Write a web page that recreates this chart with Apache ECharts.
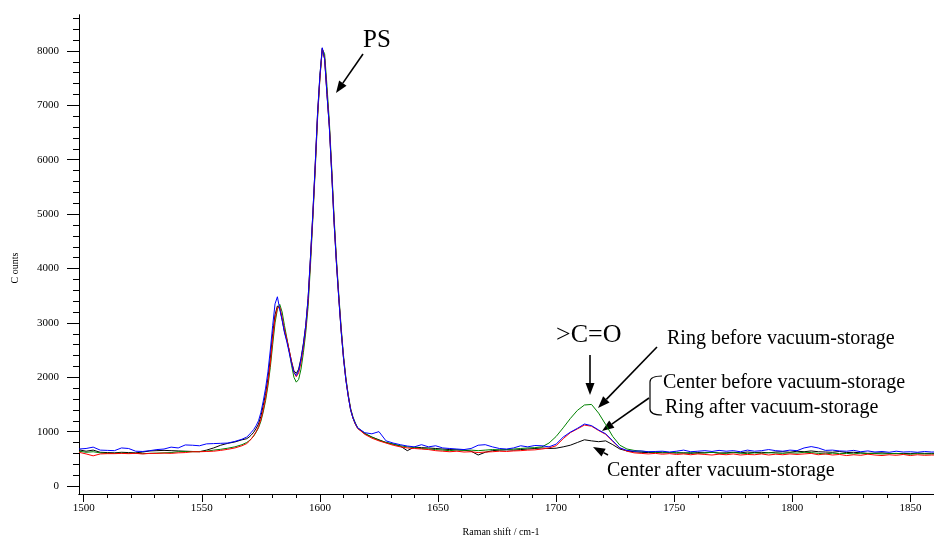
<!DOCTYPE html>
<html>
<head>
<meta charset="utf-8">
<script src="https://cdn.jsdelivr.net/npm/echarts@6/dist/echarts.min.js"></script>
<style>
html, body { margin: 0; padding: 0; background: #fff; }
#chart { width: 934px; height: 543px; }
</style>
</head>
<body>
<div id="chart"></div>
<script>
// Raman shift (cm-1): coarse on the baseline, 1 cm-1 across the PS bands
var shift = [
  1498, 1501, 1504, 1507, 1510, 1513, 1516, 1519, 1522, 1525, 1528, 1531, 1534, 1537, 1540, 1543, 1546, 1549, 1552, 1555, 1558, 1561, 1564, 1567,
  1569, 1570, 1571, 1572, 1573, 1574, 1575, 1576, 1577, 1578, 1579, 1580, 1581, 1582, 1583, 1584, 1585, 1586, 1587, 1588, 1589, 1590, 1591, 1592,
  1593, 1594, 1595, 1596, 1597, 1598, 1599, 1600, 1601, 1602, 1603, 1604, 1605, 1606, 1607, 1608, 1609, 1610, 1611, 1612, 1613, 1614, 1615, 1616,
  1619, 1622, 1625, 1628, 1631, 1634, 1637, 1640, 1643, 1646, 1649, 1652, 1655, 1658, 1661, 1664, 1667, 1670, 1673, 1676, 1679, 1682, 1685, 1688,
  1691, 1694, 1697, 1700, 1703, 1706, 1709, 1712, 1715, 1718, 1721, 1724, 1727, 1730, 1733, 1736, 1739, 1742, 1745, 1748, 1751, 1754, 1757, 1760,
  1763, 1766, 1769, 1772, 1775, 1778, 1781, 1784, 1787, 1790, 1793, 1796, 1799, 1802, 1805, 1808, 1811, 1814, 1817, 1820, 1823, 1826, 1829, 1832,
  1835, 1838, 1841, 1844, 1847, 1850, 1853, 1856, 1859, 1860
];

// black
var centerAfter = [
  665, 640, 660, 620, 615, 610, 620, 615, 610, 625, 645, 650, 655, 650, 645, 640, 635, 630, 660, 700, 750, 785, 810, 850,
  870, 900, 940, 990, 1060, 1140, 1280, 1480, 1700, 1980, 2350, 2800, 3150, 3310, 3270, 3060, 2840, 2680, 2490, 2290, 2120, 2070, 2150, 2350,
  2620, 2950, 3450, 4200, 5000, 5900, 6850, 7550, 8050, 7850, 7200, 6600, 5750, 4850, 4100, 3450, 2850, 2350, 1950, 1650, 1400, 1250, 1140, 1060,
  960, 900, 850, 800, 770, 735, 650, 715, 705, 700, 690, 680, 670, 665, 660, 640, 570, 620, 650, 660, 665, 660, 670, 680,
  690, 700, 690, 695, 720, 750, 800, 850, 830, 815, 830, 760, 680, 645, 630, 620, 615, 620, 610, 615, 605, 610, 600, 615,
  610, 620, 605, 610, 620, 610, 625, 615, 620, 610, 625, 630, 620, 640, 630, 645, 630, 625, 620, 635, 615, 620, 610, 600,
  605, 610, 600, 595, 600, 595, 605, 600, 600, 600
];

// red
var ringAfter = [
  620, 590, 555, 590, 595, 595, 600, 595, 600, 590, 600, 600, 605, 600, 610, 615, 630, 630, 635, 640, 655, 675, 700, 740,
  780, 820, 870, 930, 1000, 1090, 1220, 1400, 1620, 1900, 2250, 2700, 3080, 3280, 3290, 3100, 2870, 2700, 2500, 2280, 2090, 2010, 2080, 2270,
  2550, 2900, 3400, 4150, 4950, 5850, 6800, 7500, 8040, 7870, 7230, 6620, 5780, 4870, 4120, 3470, 2870, 2360, 1960, 1660, 1410, 1250, 1140, 1060,
  950, 880, 830, 790, 750, 720, 700, 690, 680, 670, 650, 640, 630, 640, 625, 630, 615, 625, 630, 640, 635, 645, 650, 660,
  665, 680, 700, 740, 870, 980, 1050, 1120, 1100, 1020, 950, 820, 700, 640, 610, 600, 590, 600, 585, 595, 580, 590, 575, 590,
  580, 570, 585, 575, 590, 570, 580, 575, 590, 570, 585, 575, 590, 580, 590, 600, 575, 590, 570, 580, 560, 575, 565, 585,
  570, 560, 575, 565, 580, 560, 575, 565, 570, 570
];

// blue
var centerBefore = [
  680, 690, 715, 660, 655, 650, 700, 690, 640, 635, 650, 670, 680, 715, 700, 755, 750, 740, 775, 780, 785, 790, 820, 860,
  900, 940, 990, 1040, 1110, 1200, 1350, 1560, 1800, 2100, 2500, 2950, 3350, 3480, 3250, 3050, 2820, 2650, 2450, 2250, 2090, 2030, 2120, 2330,
  2600, 2950, 3450, 4200, 5000, 5900, 6850, 7550, 8060, 7850, 7200, 6600, 5750, 4850, 4100, 3450, 2850, 2350, 1950, 1650, 1400, 1250, 1150, 1070,
  980, 960, 1000, 830, 790, 760, 735, 720, 760, 720, 740, 700, 690, 680, 670, 690, 750, 760, 720, 690, 680, 700, 740, 720,
  745, 740, 720, 770, 900, 990, 1060, 1140, 1110, 1030, 960, 830, 700, 655, 640, 645, 630, 635, 640, 625, 640, 660, 630, 640,
  650, 635, 655, 640, 650, 630, 660, 640, 650, 670, 650, 640, 660, 650, 700, 725, 700, 655, 660, 645, 640, 655, 630, 645,
  625, 635, 620, 640, 625, 630, 620, 635, 625, 625
];

// green
var ringBefore = [
  640, 620, 630, 610, 600, 600, 605, 600, 600, 595, 600, 605, 610, 615, 630, 635, 630, 635, 640, 660, 675, 695, 720, 760,
  800, 830, 870, 920, 990, 1070, 1190, 1360, 1570, 1840, 2180, 2600, 3000, 3250, 3340, 3200, 2950, 2720, 2480, 2220, 2000, 1910, 1960, 2150,
  2450, 2820, 3300, 4050, 4900, 5800, 6750, 7500, 8030, 7950, 7350, 6700, 5850, 4950, 4180, 3520, 2920, 2400, 1990, 1680, 1430, 1270, 1160, 1070,
  970, 900, 840, 800, 770, 740, 720, 705, 690, 680, 670, 660, 650, 665, 655, 660, 650, 660, 670, 665, 670, 680, 690, 700,
  705, 720, 790, 910, 1070, 1240, 1390, 1490, 1500, 1340, 1130, 910, 750, 680, 655, 640, 630, 620, 625, 610, 620, 605, 615, 600,
  610, 620, 605, 600, 615, 605, 595, 610, 600, 615, 605, 600, 610, 605, 620, 615, 600, 590, 605, 595, 600, 590, 605, 595,
  600, 590, 595, 600, 590, 585, 595, 590, 590, 590
];

var xMajor = [1500, 1550, 1600, 1650, 1700, 1750, 1800, 1850];
var xMinor = [1510, 1520, 1530, 1540, 1560, 1570, 1580, 1590, 1610, 1620, 1630, 1640, 1660, 1670, 1680, 1690,
  1710, 1720, 1730, 1740, 1760, 1770, 1780, 1790, 1810, 1820, 1830, 1840];
var yMajor = [0, 1000, 2000, 3000, 4000, 5000, 6000, 7000, 8000];
var yMinor = [200, 400, 600, 800, 1200, 1400, 1600, 1800, 2200, 2400, 2600, 2800, 3200, 3400, 3600, 3800,
  4200, 4400, 4600, 4800, 5200, 5400, 5600, 5800, 6200, 6400, 6600, 6800, 7200, 7400, 7600, 7800, 8200, 8400, 8600];

[centerAfter, ringAfter, centerBefore, ringBefore].forEach(function (a, i) {
  if (a.length !== shift.length) throw new Error('series ' + i + ' has ' + a.length + ' values, expected ' + shift.length);
});

function pairs (vals) {
  return shift.map(function (x, i) { return [x, vals[i]]; });
}

var serif = '"Liberation Serif", "Times New Roman", serif';

function plain (v) {
  return String(v);
}

function arrow (x1, y1, x2, y2) {
  var ang = Math.atan2(y2 - y1, x2 - x1);
  var len = 12, half = 4.5;
  var bx = x2 - len * Math.cos(ang), by = y2 - len * Math.sin(ang);
  var nx = -Math.sin(ang) * half, ny = Math.cos(ang) * half;
  return [
    { type: 'line', shape: { x1: x1, y1: y1, x2: bx, y2: by }, style: { stroke: '#000', lineWidth: 1.6 } },
    { type: 'polygon', shape: { points: [[x2, y2], [bx + nx, by + ny], [bx - nx, by - ny]] }, style: { fill: '#000' } }
  ];
}

function label (text, x, y, size) {
  return { type: 'text', x: x, y: y, style: { text: text, font: size + 'px ' + serif, fill: '#000', textVerticalAlign: 'middle' } };
}

var graphics = [
  label('PS', 363, 40, 25),
  label('>C=O', 556, 335, 26),
  label('Ring before vacuum-storage', 667, 339, 20),
  label('Center before vacuum-storage', 663, 383, 20),
  label('Ring after vacuum-storage', 665, 408, 20),
  label('Center after vacuum-storage', 607, 471, 20),
  { type: 'bezierCurve', shape: { x1: 662, y1: 376, x2: 650, y2: 382, cpx1: 650, cpy1: 376 }, style: { stroke: '#000', lineWidth: 1.2, fill: null } },
  { type: 'line', shape: { x1: 650, y1: 382, x2: 650, y2: 409 }, style: { stroke: '#000', lineWidth: 1.2 } },
  { type: 'bezierCurve', shape: { x1: 650, y1: 409, x2: 662, y2: 415, cpx1: 650, cpy1: 415 }, style: { stroke: '#000', lineWidth: 1.2, fill: null } },
  { type: 'text', x: 501, y: 532, style: { text: 'Raman shift / cm-1', font: '10px ' + serif, fill: '#000', textAlign: 'center', textVerticalAlign: 'middle' } },
  { type: 'text', x: 15, y: 268, rotation: Math.PI / 2, style: { text: 'C ounts', font: '10px ' + serif, fill: '#000', textAlign: 'center', textVerticalAlign: 'middle' } }
].concat(
  arrow(363, 54, 336, 93),
  arrow(590, 355, 590, 395),
  arrow(657, 347, 598, 408),
  arrow(649, 398, 602, 431),
  arrow(608, 455, 593, 447)
);

function line (name, color, vals) {
  return {
    name: name, type: 'line', data: pairs(vals), symbol: 'none', silent: true,
    lineStyle: { color: color, width: 1 }
  };
}

var chart = echarts.init(document.getElementById('chart'));
chart.setOption({
  backgroundColor: '#fff',
  animation: false,
  grid: { left: 79, top: 15, right: 0, bottom: 49 },
  xAxis: [
    {
      type: 'value', min: 1498, max: 1860, position: 'bottom',
      axisLine: { show: true, onZero: false, lineStyle: { color: '#000', width: 1 } },
      axisTick: { show: true, customValues: xMajor, length: 8, lineStyle: { color: '#000', width: 1 } },
      axisLabel: { customValues: xMajor, formatter: plain, color: '#000', fontFamily: serif, fontSize: 11, margin: 9 },
      splitLine: { show: false }
    },
    {
      type: 'value', min: 1498, max: 1860, position: 'bottom',
      axisLine: { show: true, onZero: false, lineStyle: { color: '#000', width: 1 } },
      axisTick: { show: true, customValues: xMinor, length: 4, lineStyle: { color: '#000', width: 1 } },
      axisLabel: { show: false },
      splitLine: { show: false }
    }
  ],
  yAxis: [
    {
      type: 'value', min: -147, max: 8662, position: 'left',
      axisLine: { show: true, lineStyle: { color: '#000', width: 1 } },
      axisTick: { show: true, customValues: yMajor, length: 12, lineStyle: { color: '#000', width: 1 } },
      axisLabel: { customValues: yMajor, formatter: plain, color: '#000', fontFamily: serif, fontSize: 11, margin: 20 },
      splitLine: { show: false }
    },
    {
      type: 'value', min: -147, max: 8662, position: 'left',
      axisLine: { show: true, lineStyle: { color: '#000', width: 1 } },
      axisTick: { show: true, customValues: yMinor, length: 6, lineStyle: { color: '#000', width: 1 } },
      axisLabel: { show: false },
      splitLine: { show: false }
    }
  ],
  series: [
    line('Center after vacuum-storage', '#000000', centerAfter),
    line('Ring before vacuum-storage', '#008000', ringBefore),
    line('Ring after vacuum-storage', '#ff0000', ringAfter),
    line('Center before vacuum-storage', '#0000ff', centerBefore)
  ],
  graphic: graphics
});
</script>
</body>
</html>
